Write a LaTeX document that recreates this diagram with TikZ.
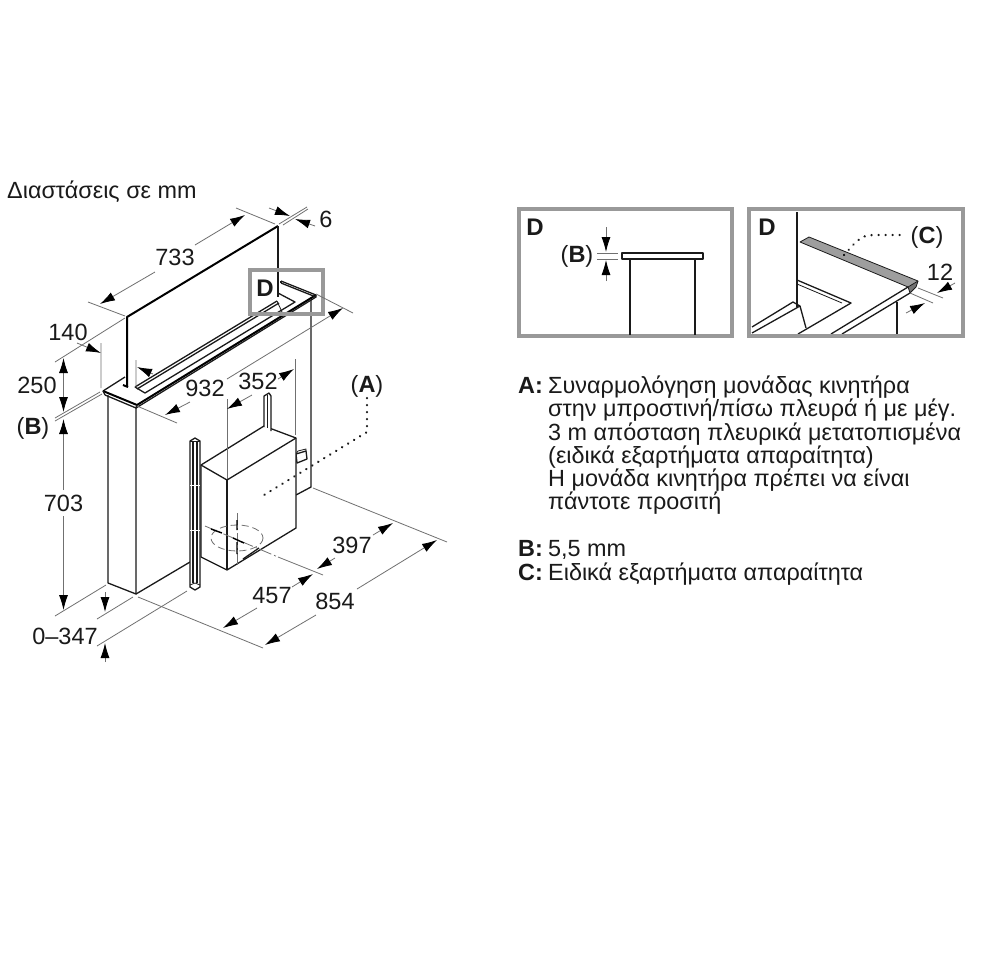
\documentclass[tikz,border=0pt]{standalone}
\usepackage{fontspec}
\setmainfont{Liberation Sans}
\usetikzlibrary{arrows.meta}
\definecolor{ink}{HTML}{1A1A1A}
\definecolor{dimgray}{HTML}{707070}
\definecolor{framegray}{HTML}{999999}
\tikzset{
  lab/.style={font=\fontsize{23.5}{28}\selectfont,text=ink,inner sep=0pt},
  blab/.style={font=\fontsize{24}{28}\selectfont\bfseries,text=ink,inner sep=0pt},
  body/.style={font=\fontsize{23.4}{28}\selectfont,text=ink,inner sep=0pt,anchor=base west},
  dimline/.style={draw=dimgray,line width=0.8pt},
  tip/.style={dimline,-{Latex[length=15pt,width=9pt,color=black]}},
  tips/.style={dimline,{Latex[length=15pt,width=9pt,color=black]}-{Latex[length=15pt,width=9pt,color=black]}},
  ln/.style={draw=ink,line width=1.3pt,line join=round},
  thick ln/.style={draw=black,line width=2pt,line join=round},
  thin ln/.style={draw=ink,line width=0.8pt,line join=round},
  frame/.style={draw=framegray,line width=4pt},
  leader/.style={draw=ink,line width=2.4pt,dash pattern=on 0.2pt off 6.8pt,line cap=round},
}
\begin{document}
\begin{tikzpicture}[x=1pt,y=-1pt]
\useasboundingbox (0,0) rectangle (1000,962);
\fill[white] (0,0) rectangle (1000,962);
% title
\node[body] (title) at (7,198) {Διαστάσεις σε mm};

% === Main unit ===
% panel
\draw[thick ln] (127,387) -- (127,317) -- (278,226);
\draw[ln] (278,226) -- (278,297);
% plate
\draw[ln] (103,391) -- (125,377);
\draw[thick ln] (123,385) -- (128,387);
\draw[thick ln] (103,391) -- (137,405) -- (316,295);
\draw[ln] (105,395) -- (136,408) -- (137,405);
\draw[ln] (136,408) -- (316,297) -- (316,295);
\draw[ln] (103,391) -- (105,395);
\draw[ln] (316,295) -- (281,281);
\draw[ln] (316,297) -- (281,283) ;
\draw[ln] (281,281) -- (281,283);
% slot
\draw[ln] (135,387) -- (277,301);
\draw[ln] (137,389) -- (279,303);
\draw[ln] (135,387) -- (145,393) -- (295,302) -- (278,293);
\draw[thin ln] (277,301) -- (282,312);
% body
\draw[ln] (108,395) -- (108,583) -- (136,594) -- (136,408);
\draw[ln] (136,594) -- (190,562);
\draw[ln] (311,300) -- (311,487) -- (296,495);
% connector
\draw[ln,fill=white] (296,454) -- (306,451) -- (307,459) -- (297,463) -- cycle;
\draw[thin ln] (296,454) -- (298,451) -- (306,449) -- (306,451);
% motor box
\draw[ln,fill=white] (201,465) -- (264,426) -- (296,438) -- (296,528) -- (227,570) -- (201,557) -- cycle;
\draw[ln] (201,465) -- (227,480) -- (296,438);
\draw[ln] (227,480) -- (227,570);
% back pipe
\draw[ln,fill=white] (264,427) -- (264,396) -- (269,393) -- (271,396) -- (271,431);
\draw[ln] (267.5,395) -- (267.5,428);
% front pipe
\draw[ln,fill=white] (190,441) -- (195,438) -- (200,441) -- (200,587) -- (195,590) -- (190,587) -- cycle;
\draw[ln] (193,441) -- (193,583);
\draw[ln] (197,441) -- (197,583);
\draw[thin ln] (190,441) -- (200,441);
\draw[thin ln] (190,585) -- (195,583) -- (200,585);
\draw[white,line width=0.8pt] (190,485) -- (200,485) (190,530) -- (200,530);
% hidden parts
\draw[draw=dimgray,line width=0.8pt,dash pattern=on 7pt off 4pt] (237,538) ellipse [x radius=26,y radius=13];
\draw[dimline,dash pattern=on 12pt off 3pt on 2pt off 3pt] (205,526) -- (278,557);
\draw[dimline,dash pattern=on 12pt off 3pt on 2pt off 3pt] (237,513) -- (237,568);
\draw[black,line width=1.4pt] (211,529) -- (222,533) (233,538) -- (244,543) (237,520) -- (237,530) (237,542) -- (237,554);
\draw[ln] (243,559) -- (259,548);

% frame D
\draw[frame] (250,270) rectangle (323,314);
\node[blab] (dA) at (265,288) {D};

% === Dimensions ===
% 733
\draw[dimline] (88,302) -- (125,316) (236,208) -- (275,224);
\draw[tip] (155,272) -- (100,304);
\draw[tip] (195,245) -- (245,215);
\node[lab] (l733) at (175,257) {733};
% 6
\draw[dimline] (279,224) -- (307,207) (283,225) -- (308,209);
\draw[tip] (269,208) -- (290,216);
\draw[tip] (315,226) -- (295,219);
\node[lab] (l6) at (326,219) {6};
% 140
\draw[dimline] (55,362) -- (125,318) (101,343) -- (101,388) (136,360) -- (136,387);
\draw[tip] (77,343) -- (101,353);
\draw[tip] (153,374) -- (137,367);
\node[lab] (l140) at (68,332) {140};
% 250
\draw[tips] (63.5,358) -- (63.5,412);
\node[lab] (l250) at (37,385) {250};
\draw[dimline] (55,418) -- (100,392) (55,421) -- (102,394);
% (B)
\node[lab] (lB) at (33,428) {(\textbf{B})};
% 703
\draw[tip] (63.5,490) -- (63.5,419);
\draw[tip] (63.5,516) -- (63.5,610);
\node[lab] (l703) at (63.5,503) {703};
\draw[dimline] (55,616) -- (106,585);
% 0-347
\draw[tip] (105,592) -- (105,612);
\draw[tip] (105,662) -- (105,643);
\draw[dimline] (97,619) -- (133,597) (97,646) -- (187,591);
\node[lab] (l347) at (65,636) {0–347};
% 854
\draw[dimline] (138,597) -- (263,648) (313,488) -- (447,542);
\draw[tip] (316,615) -- (265,645);
\draw[tip] (357,589) -- (437,540);
\node[lab] (l854) at (335,601) {854};
% 457
\draw[tip] (257,608) -- (223,628);
\draw[tip] (292,587) -- (313,574);
\node[lab] (l457) at (272,596) {457};
% 397
\draw[dimline] (278,557) -- (323,575);
\draw[tip] (335,558) -- (317,569);
\draw[tip] (373,535) -- (393,523);
\node[lab] (l397) at (352,545) {397};
% 352
\draw[dimline] (227,399) -- (227,479) (295,359) -- (295,435);
\draw[tip] (252,395) -- (227,409);
\draw[tip] (278,379) -- (294,369);
\node[lab] (l352) at (258,381) {352};
% 932
\draw[dimline] (137,406) -- (177,423) (316,294) -- (353,313);
\draw[tip] (190,402) -- (165,415);
\draw[tip] (227,379) -- (343,308);
\node[lab] (l932) at (205,388) {932};
% (A)
\node[lab] (lAtag) at (367,386) {(\textbf{A})};
\draw[leader] (367,398) -- (367,432) -- (264,495);

% === Panel D left ===
\draw[frame] (519,209) rectangle (732,336);
\node[blab] (dB) at (535,227) {D};
\draw[ln] (622,253) rectangle (703,259);
\draw[ln] (630,259) -- (630,335) (695,259) -- (695,335);
\draw[dimline] (597,253) -- (618,253) (597,259) -- (618,259);
\draw[tip] (606,227) -- (606,252);
\draw[tip] (606,281) -- (606,260);
\node[lab] (lB2) at (577,256) {(\textbf{B})};

% === Panel D right ===
\fill[black!38] (800,242) -- (809,237) -- (918,281) -- (908,287) -- cycle;
\fill[black!55] (908,287) -- (918,281) -- (916,287) -- (910,293) -- cycle;
\draw[thin ln] (800,242) -- (908,287) -- (918,281) -- (809,237) -- cycle;
\draw[thin ln] (908,287) -- (910,293) -- (916,287) -- (918,281);
\draw[ln] (797,212) -- (797,307);
\draw[ln] (908,287) -- (831,334) (910,293) -- (842,334);
\draw[ln] (897,302) -- (897,334);
\draw[ln] (797,280) -- (851,303) -- (798,334);
\draw[thin ln] (797,284) -- (842,303);
\draw[ln] (752,327) -- (793,302) -- (800,306) -- (806,328);
\draw[ln] (752,333) -- (800,306);
\draw[frame] (749,209) rectangle (963,336);
\node[blab] (dC) at (767,227) {D};
\draw[leader] (844,255) .. controls (855,243) and (860,235) .. (873,235) -- (905,235);
\node[lab] (lC) at (927,237) {(\textbf{C})};
\node[lab] (l12) at (940,272) {12};
\draw[dimline] (910,293) -- (933,303) (918,288) -- (943,298);
\draw[tip] (955,283) -- (937,293);
\draw[tip] (906,313) -- (925,303);

% === Notes ===
\node[body] (nA) at (518,393) {\textbf{A:}};
\node[body] (n1) at (548,393) {Συναρμολόγηση μονάδας κινητήρα};
\node[body] (n2) at (548,416) {στην μπροστινή/πίσω πλευρά ή με μέγ.};
\node[body] (n3) at (548,440) {3 m απόσταση πλευρικά μετατοπισμένα};
\node[body] (n4) at (548,463) {(ειδικά εξαρτήματα απαραίτητα)};
\node[body] (n5) at (548,486) {Η μονάδα κινητήρα πρέπει να είναι};
\node[body] (n6) at (548,509) {πάντοτε προσιτή};
\node[body] (nB) at (518,556) {\textbf{B:}};
\node[body] (n7) at (548,556) {5,5 mm};
\node[body] (nC) at (518,580) {\textbf{C:}};
\node[body] (n8) at (548,580) {Ειδικά εξαρτήματα απαραίτητα};
\end{tikzpicture}
\end{document}
